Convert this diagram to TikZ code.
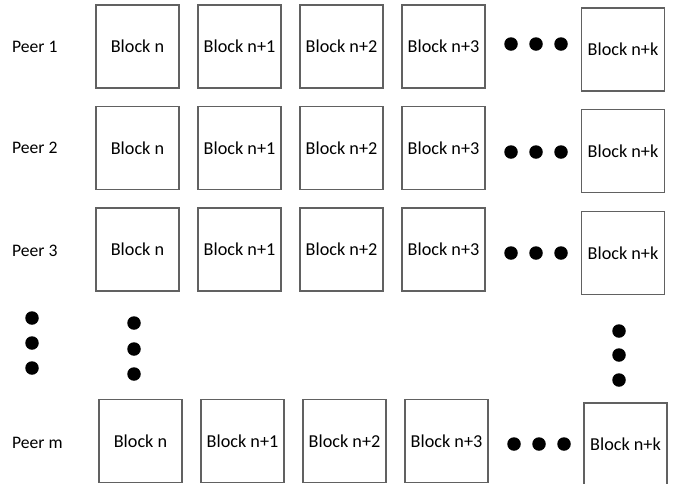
\documentclass[tikz,border=0pt]{standalone}
\usepackage{fontspec}
\setmainfont{Carlito}
\begin{document}
\begin{tikzpicture}[x=1pt,y=-1pt,
  blk/.style={draw=black!62,line width=1.2pt,minimum width=83pt,minimum height=83pt,inner sep=0pt,font=\fontsize{18.2}{21}\selectfont},
  peer/.style={anchor=west,inner sep=0pt,font=\fontsize{17.6}{21}\selectfont},
  dot/.style={circle,fill=black,inner sep=0pt,minimum size=13.5pt}]
\useasboundingbox (0,0) rectangle (676,483);
% Row 1
\node[peer] (p1) at (12,47) {Peer 1};
\node[blk] (r1a) at (137.5,46.5) {Block n};
\node[blk] (r1b) at (239.5,46.5) {Block n+1};
\node[blk] (r1c) at (341.5,46.5) {Block n+2};
\node[blk] (r1d) at (443.5,46.5) {Block n+3};
\node[dot] (r1x) at (511,44) {};
\node[dot] (r1y) at (536,44) {};
\node[dot] (r1z) at (561,44) {};
\node[blk] (r1k) at (623,49.5) {Block n+k};
% Row 2
\node[peer] (p2) at (12,148) {Peer 2};
\node[blk] (r2a) at (137.5,148) {Block n};
\node[blk] (r2b) at (239.5,148) {Block n+1};
\node[blk] (r2c) at (341.5,148) {Block n+2};
\node[blk] (r2d) at (443.5,148) {Block n+3};
\node[dot] (r2x) at (511,152) {};
\node[dot] (r2y) at (536,152) {};
\node[dot] (r2z) at (561,152) {};
\node[blk] (r2k) at (623,151) {Block n+k};
% Row 3
\node[peer] (p3) at (12,251) {Peer 3};
\node[blk] (r3a) at (137.5,249.5) {Block n};
\node[blk] (r3b) at (239.5,249.5) {Block n+1};
\node[blk] (r3c) at (341.5,249.5) {Block n+2};
\node[blk] (r3d) at (443.5,249.5) {Block n+3};
\node[dot] (r3x) at (511,253) {};
\node[dot] (r3y) at (536,253) {};
\node[dot] (r3z) at (561,253) {};
\node[blk] (r3k) at (623,253) {Block n+k};
% vertical ellipses
\node[dot] (va1) at (32,318) {};
\node[dot] (va2) at (32,343) {};
\node[dot] (va3) at (32,368) {};
\node[dot] (vb1) at (134,323) {};
\node[dot] (vb2) at (134,349) {};
\node[dot] (vb3) at (134,374) {};
\node[dot] (vc1) at (619,331) {};
\node[dot] (vc2) at (619,355) {};
\node[dot] (vc3) at (619,380) {};
% Row m
\node[peer] (pm) at (12,443) {Peer m};
\node[blk] (rma) at (140.5,441) {Block n};
\node[blk] (rmb) at (242.5,441) {Block n+1};
\node[blk] (rmc) at (344.5,441) {Block n+2};
\node[blk] (rmd) at (446.5,441) {Block n+3};
\node[dot] (rmx) at (514,444) {};
\node[dot] (rmy) at (539,444) {};
\node[dot] (rmz) at (564,444) {};
\node[blk] (rmk) at (625.5,444.5) {Block n+k};
\end{tikzpicture}
\end{document}
